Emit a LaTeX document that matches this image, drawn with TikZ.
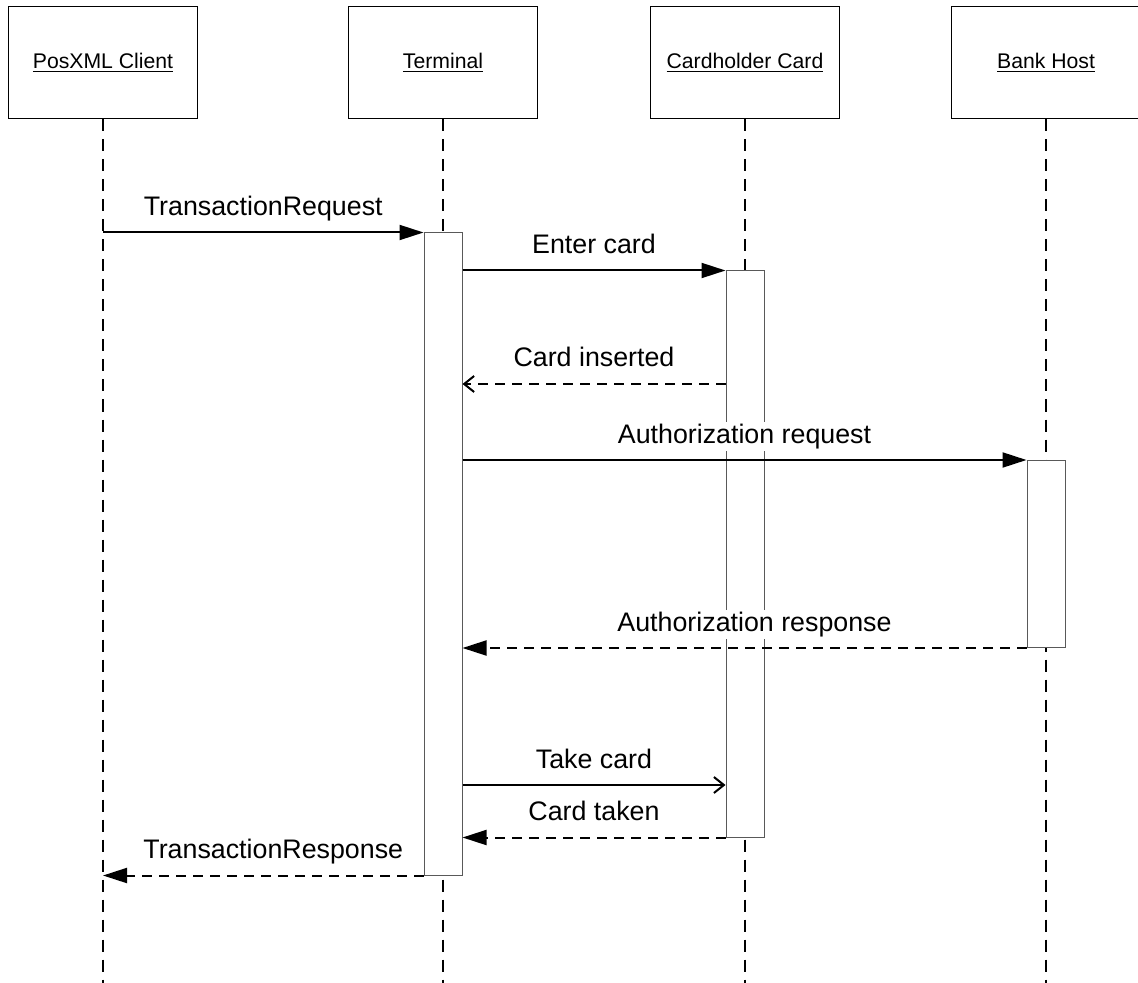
\documentclass[tikz,border=0pt]{standalone}
\usepackage{fontspec}
\setmainfont{Liberation Sans}
\usetikzlibrary{positioning,arrows.meta,calc}
\tikzset{>={Triangle[length=12pt,width=7.5pt]}}

\begin{document}
\begin{tikzpicture}[
    x=0.5pt, y=-0.5pt,
    actor/.style={
        draw=black,
        line width=0.5pt,
        minimum width=94.5pt,
        minimum height=56pt,
        font=\fontsize{10.6}{13}\selectfont
        },
    lifeline/.style={line width=1pt, dash pattern=on 6pt off 4pt},
    activation/.style={draw=black!65, fill=white, line width=0.5pt, minimum width=19pt, inner sep=0pt},
    msg/.style={line width=1pt},
    reply/.style={line width=1pt, dash pattern=on 5pt off 3.5pt},
    open/.style={-{Straight Barb[length=5pt,width=8pt]}},
    lbl/.style={fill=white, inner sep=1pt, anchor=base, yshift=8.5pt, font=\fontsize{13.4}{16}\selectfont}
    ]
    \useasboundingbox (0,0) rectangle (1138,983);

    \begin{scope}[on grid]
    \node[actor] (client)                          at (103,63) {\underline{PosXML Client}};
    \node[actor] (terminal) [right = 170pt of client]   {\underline{Terminal}};
    \node[actor] (card)     [right = 151pt of terminal] {\underline{Cardholder Card}};
    \node[actor] (bank)     [right = 150.5pt of card]   {\underline{Bank Host}};
    \end{scope}

    \coordinate (bottom)   at (0,983);
    \coordinate (mid)      at (0,554);
    \coordinate (inserted) at (0,384);
    \coordinate (take)     at (0,785);

    \foreach \n in {client,terminal,card,bank}
        \draw[lifeline] (\n.south) -- (\n.south |- bottom);

    \node[activation, minimum height=321pt]  (tact) at (terminal |- mid) {};
    \node[activation, minimum height=283pt]  (cact) at (card |- mid) {};
    \node[activation, minimum height=93.5pt] (bact) at (bank |- mid) {};

    \path[msg, ->]
    (client |- tact.north) edge node[lbl] {TransactionRequest} (tact.north west)
    (tact.east |- cact.north) edge node[lbl] {Enter card} (cact.north west)
    (tact.east |- bact.north) edge node[lbl] {Authorization request} (bact.north west)
    (tact.east |- take) edge[open] node[lbl] {Take card} (cact.west |- take)
    ;
    \path[reply, ->]
    (cact.west |- inserted) edge[open] node[lbl] {Card inserted} (tact.east |- inserted)
    (bact.south west) edge node[lbl, xshift=5pt] {Authorization response} (tact.east |- bact.south)
    (cact.south west) edge node[lbl] {Card taken} (tact.east |- cact.south)
    (tact.south west) edge node[lbl, xshift=5pt] {TransactionResponse} (client |- tact.south)
    ;
\end{tikzpicture}
\end{document}
